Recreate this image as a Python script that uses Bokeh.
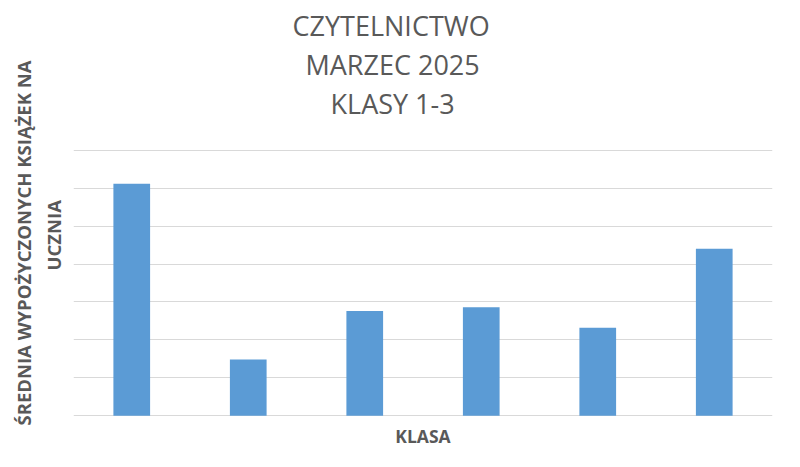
from bokeh.plotting import figure
from bokeh.models import Title, FixedTicker
from bokeh.embed import file_html
from bokeh.resources import INLINE

# dane: średnia liczba wypożyczonych książek na ucznia (marzec 2025)
klasy = ["1a", "1b", "2a", "2b", "3a", "3b"]
srednia = [3.06, 0.74, 1.38, 1.43, 1.16, 2.2]
y_ticks = [0, 0.5, 1, 1.5, 2, 2.5, 3, 3.5]

title_lines = ["CZYTELNICTWO", "MARZEC 2025", "KLASY 1-3"]
y_label_lines = ["ŚREDNIA WYPOŻYCZONYCH KSIĄŻEK NA", "UCZNIA"]
x_label = "KLASA"

TEXT = "#595959"
FONT = "Open Sans"

p = figure(width=784, height=462, x_range=klasy, y_range=(-0.01, 3.51),
           output_backend="svg", toolbar_location=None, title=None,
           min_border_left=73, min_border_right=12,
           min_border_top=149, min_border_bottom=46)
p.x_range.range_padding = 0

p.vbar(x=klasy, top=srednia, width=0.315, fill_color="#5B9BD5", line_color=None)

p.yaxis.ticker = FixedTicker(ticks=y_ticks)
p.xaxis.visible = False
p.yaxis.visible = False
p.xgrid.grid_line_color = None
p.ygrid.grid_line_color = "#D9D9D9"
p.ygrid.grid_line_width = 1
p.outline_line_color = None


def spacer(gap):
    return Title(text=" ", text_font_size="1px", standoff=gap)


# tytuł - trzy linie; panele układają się od wykresu w górę
p.add_layout(spacer(25), "above")
title_offsets = [219, 232, 257]
for line, off in reversed(list(zip(title_lines, title_offsets))):
    p.add_layout(Title(text=line, align="left", offset=off, text_font=FONT,
                       text_font_size="27px", text_font_style="normal",
                       text_color=TEXT, standoff=0), "above")

# opis osi Y - dwie linie
p.add_layout(spacer(5), "left")
y_label_offset = [-9, 146]
y_label_standoff = [6, 0]
for line, off, so in reversed(list(zip(y_label_lines, y_label_offset, y_label_standoff))):
    p.add_layout(Title(text=line, align="left", offset=off, text_font=FONT,
                       text_font_size="18.5px", text_font_style="bold",
                       text_color=TEXT, standoff=so), "left")

p.add_layout(Title(text=x_label, align="center", vertical_align="top",
                   text_font=FONT, text_font_size="17.5px", text_font_style="bold",
                   text_color=TEXT, standoff=14), "below")

open("out.html", "w").write(file_html(p, INLINE))
